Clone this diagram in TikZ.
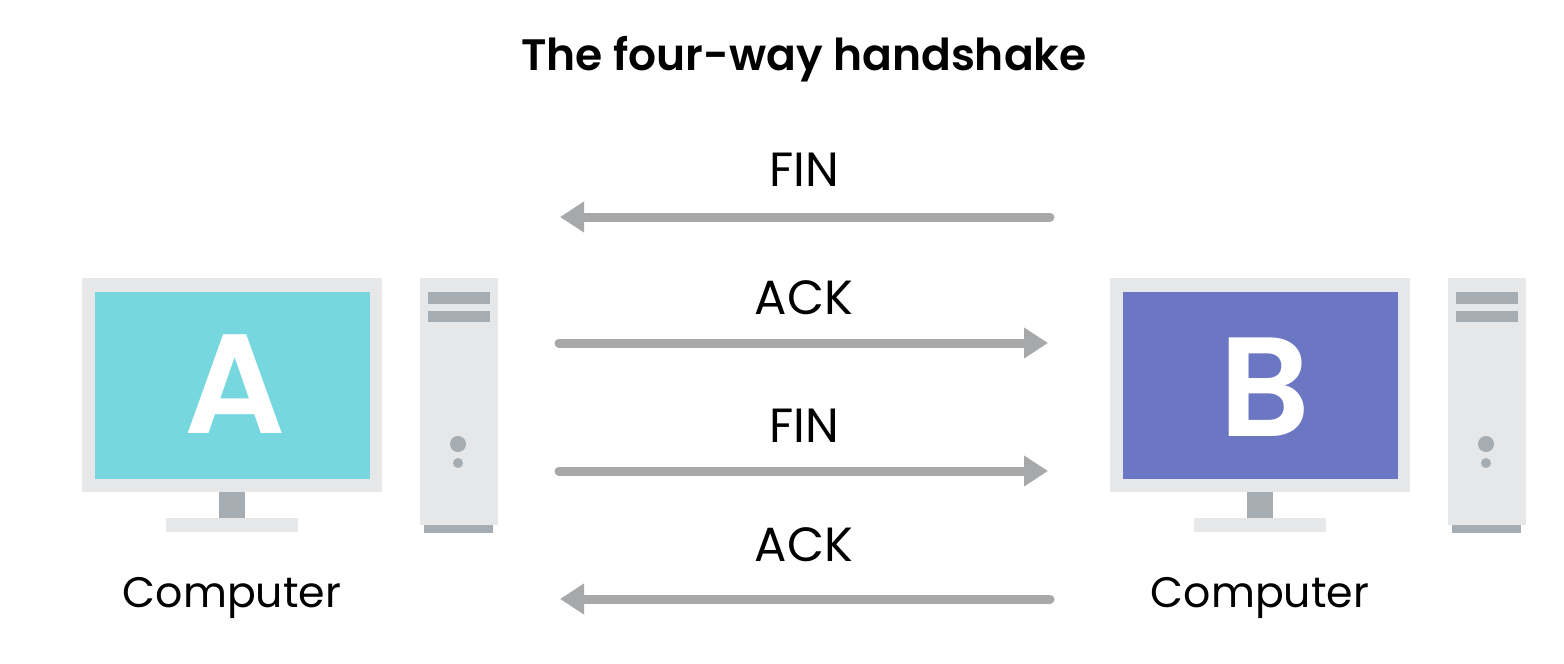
\documentclass[tikz,border=0pt]{standalone}
\usepackage{fontspec}
\setmainfont{Poppins}[BoldFont={Poppins SemiBold}]
\usetikzlibrary{arrows.meta}
\definecolor{teal}{HTML}{76D7DF}
\definecolor{indigo}{HTML}{6B77C3}
\definecolor{bodygrey}{HTML}{E6E7E9}
\definecolor{partgrey}{HTML}{A5ADB2}
\definecolor{arrowgrey}{HTML}{A6A8AA}
\tikzset{
  flow/.style={draw=arrowgrey,line width=6.75pt,line cap=round,-{Triangle[length=18pt,width=22pt]}},
  lbl/.style={anchor=base,inner sep=0pt,font=\fontsize{36}{42}\selectfont,text=black},
  complbl/.style={anchor=base,inner sep=0pt,font=\fontsize{32}{38}\selectfont,text=black},
  letter/.style={anchor=base,inner sep=0pt,font=\fontsize{106}{120}\selectfont\bfseries,text=white},
  computer/.pic={
    \fill[bodygrey] (0,0) rectangle (300,214);
    \fill[partgrey] (137,214) rectangle (163,240);
    \fill[bodygrey] (84,240) rectangle (216,254);
    \fill[bodygrey] (338,0) -- (416,0) -- (416,247) -- (338,247) -- cycle;
    \fill[partgrey] (342,247) rectangle (411,255);
    \fill[partgrey] (346,14) rectangle (408,26);
    \fill[partgrey] (346,33) rectangle (408,44);
    \fill[partgrey] (376,166) circle (8);
    \fill[partgrey] (376,185) circle (5);
  }
}
\begin{document}
\begin{tikzpicture}[x=0.75pt,y=-0.75pt]
\useasboundingbox (0,0) rectangle (1564,664);
\fill[white] (0,0) rectangle (1564,664);
\pic at (82,278) {computer};
\pic at (1110,278) {computer};
\fill[teal] (95,292) rectangle (370,479);
\fill[indigo] (1123,292) rectangle (1398,479);
\node[letter] (a) at (235.5,433) {A};
\node[letter] (b) at (1265,436) {B};
\node[anchor=base,inner sep=0pt,font=\fontsize{33}{39}\selectfont\bfseries] (title) at (804,70) {The four-way handshake};
\node[lbl] (fin1) at (804,186) {FIN};
\node[lbl] (ack1) at (804,314) {ACK};
\node[lbl] (fin2) at (804,442) {FIN};
\node[lbl] (ack2) at (804,561) {ACK};
\node[complbl] (compa) at (232,607) {Computer};
\node[complbl] (compb) at (1260,607) {Computer};
\coordinate (r1) at (1050,217); \coordinate (l1) at (560,217);
\coordinate (l2) at (559,343); \coordinate (r2) at (1048,343);
\coordinate (l3) at (559,471); \coordinate (r3) at (1048,471);
\coordinate (r4) at (1050,599); \coordinate (l4) at (560,599);
\draw[flow] (r1) -- (l1);
\draw[flow] (l2) -- (r2);
\draw[flow] (l3) -- (r3);
\draw[flow] (r4) -- (l4);
\end{tikzpicture}
\end{document}
